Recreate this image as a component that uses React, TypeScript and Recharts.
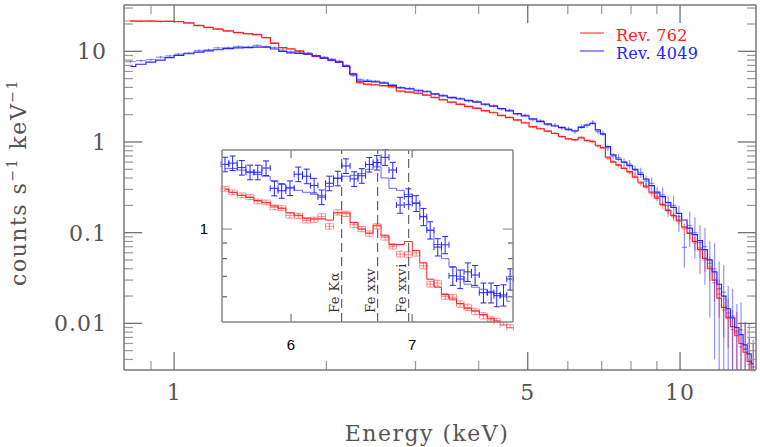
import { ComposedChart, Line, Scatter, ErrorBar, XAxis, YAxis, ReferenceLine, CartesianGrid, Legend } from 'recharts'

// main spectrum: energy bins (keV) and count rates
const mainEnergy = [
  0.82, 0.86, 0.9, 0.94, 0.98, 1.02, 1.07, 1.12, 1.17, 1.22,
  1.28, 1.34, 1.4, 1.46, 1.52, 1.58, 1.64, 1.7, 1.77, 1.84,
  1.91, 1.98, 2.05, 2.12, 2.19, 2.26, 2.33, 2.41, 2.5, 2.6,
  2.7, 2.8, 2.92, 3.04, 3.16, 3.28, 3.4, 3.54, 3.68, 3.82,
  3.97, 4.12, 4.28, 4.44, 4.6, 4.77, 4.94, 5.12, 5.3, 5.48,
  5.66, 5.84, 6.02, 6.2, 6.38, 6.55, 6.72, 6.88, 7.04, 7.2,
  7.38, 7.56, 7.75, 7.95, 8.15, 8.36, 8.57, 8.79, 9.01, 9.24,
  9.47, 9.71, 9.95, 10.2, 10.45, 10.7, 10.95, 11.2, 11.45, 11.7,
  11.95, 12.2, 12.45, 12.7, 12.95, 13.2, 13.45, 13.7, 13.95,
]

const redModel = [
  21.5, 21.5, 21.5, 21.4, 21.4, 21.3, 20.6, 19.2, 18.4, 17.6,
  16.8, 16.1, 15.7, 15.3, 14.2, 12.2, 11.0, 10.6, 10.1, 9.3,
  8.8, 8.4, 8.0, 7.6, 6.9, 5.6, 4.5, 4.35, 4.25, 4.18,
  4.05, 3.65, 3.55, 3.45, 3.28, 3.1, 2.92, 2.75, 2.6, 2.47,
  2.35, 2.22, 2.1, 1.97, 1.86, 1.75, 1.62, 1.48, 1.4, 1.32,
  1.24, 1.15, 1.08, 1.06, 1.11, 1.04, 1.01, 0.92, 0.86, 0.68,
  0.6, 0.56, 0.51, 0.47, 0.41, 0.36, 0.32, 0.28, 0.24, 0.205,
  0.175, 0.155, 0.135, 0.115, 0.098, 0.08, 0.065, 0.052, 0.04, 0.03,
  0.019, 0.015, 0.0115, 0.0092, 0.0073, 0.006, 0.0048, 0.0038, 0.0028,
]

const redData = [
  21.6, 21.4, 21.6, 21.3, 21.5, 21.2, 20.5, 19.4, 18.3, 17.7,
  16.7, 16.2, 15.6, 15.4, 14.0, 12.4, 10.9, 10.7, 10.0, 9.4,
  8.7, 8.5, 7.9, 7.7, 6.8, 5.7, 4.5, 4.3, 4.3, 4.15,
  4.1, 3.6, 3.57, 3.42, 3.3, 3.08, 2.95, 2.73, 2.62, 2.45,
  2.37, 2.2, 2.12, 1.95, 1.88, 1.73, 1.64, 1.46, 1.41, 1.31,
  1.25, 1.14, 1.09, 1.05, 1.13, 1.03, 1.02, 0.9, 0.87, 0.66,
  0.61, 0.55, 0.52, 0.46, 0.42, 0.35, 0.33, 0.27, 0.25, 0.2,
  0.18, 0.15, 0.14, 0.11, 0.1, 0.077, 0.068, 0.05, 0.042, 0.028,
  0.021, 0.014, 0.012, 0.0085, 0.0078, 0.0055, 0.0052, 0.0035, 0.003,
]

const redErrFrac = [
  0.02, 0.02, 0.02, 0.02, 0.02, 0.02, 0.02, 0.02, 0.02, 0.02,
  0.02, 0.02, 0.02, 0.02, 0.02, 0.02, 0.02, 0.02, 0.02, 0.02,
  0.02, 0.02, 0.02, 0.02, 0.02, 0.02, 0.02, 0.02, 0.02, 0.02,
  0.025, 0.025, 0.025, 0.025, 0.025, 0.025, 0.025, 0.025, 0.025, 0.025,
  0.025, 0.025, 0.025, 0.025, 0.025, 0.025, 0.025, 0.03, 0.03, 0.03,
  0.03, 0.03, 0.03, 0.03, 0.03, 0.035, 0.035, 0.035, 0.04, 0.04,
  0.04, 0.045, 0.05, 0.05, 0.06, 0.06, 0.07, 0.07, 0.08, 0.09,
  0.1, 0.11, 0.12, 0.14, 0.16, 0.18, 0.22, 0.26, 0.3, 0.38,
  0.45, 0.5, 0.55, 0.65, 0.7, 0.8, 0.9, 1, 1,
]

const blueModel = [
  6.8, 7.2, 7.6, 8.0, 8.5, 9.0, 9.4, 9.8, 10.1, 10.4,
  10.7, 10.9, 11.0, 11.1, 11.1, 10.6, 10.0, 9.6, 9.5, 9.3,
  8.9, 8.4, 8.0, 7.6, 6.8, 5.6, 4.7, 4.65, 4.6, 4.45,
  4.2, 3.95, 3.85, 3.72, 3.58, 3.4, 3.22, 3.1, 2.98, 2.87,
  2.75, 2.62, 2.48, 2.34, 2.2, 2.06, 1.94, 1.8, 1.68, 1.58,
  1.5, 1.45, 1.37, 1.33, 1.45, 1.54, 1.6, 1.36, 1.22, 0.89,
  0.72, 0.645, 0.6, 0.55, 0.5, 0.44, 0.39, 0.33, 0.28, 0.25,
  0.215, 0.19, 0.163, 0.138, 0.112, 0.095, 0.082, 0.065, 0.05, 0.037,
  0.027, 0.02, 0.0145, 0.0115, 0.009, 0.0075, 0.0058, 0.0046, 0.0036,
]

const blueData = [
  7.7, 7.9, 8.1, 8.6, 8.9, 9.3, 9.6, 10.2, 10.4, 10.9,
  11.0, 11.3, 11.2, 11.6, 11.3, 11.0, 10.3, 9.9, 9.8, 9.6,
  9.0, 8.6, 8.2, 7.8, 7.0, 5.4, 4.9, 4.8, 4.7, 4.55,
  4.25, 4.0, 3.9, 3.65, 3.62, 3.35, 3.28, 3.05, 3.02, 2.82,
  2.8, 2.58, 2.52, 2.3, 2.25, 2.02, 1.98, 1.76, 1.72, 1.55,
  1.53, 1.42, 1.4, 1.3, 1.48, 1.52, 1.65, 1.3, 1.24, 0.86,
  0.7, 0.67, 0.6, 0.57, 0.49, 0.46, 0.37, 0.35, 0.27, 0.26,
  0.2, 0.2, 0.15, 0.069, 0.12, 0.1, 0.078, 0.07, 0.046, 0.04,
  0.024, 0.022, 0.013, 0.012, 0.0082, 0.0085, 0.0052, 0.005, 0.0033,
]

const blueErrFrac = [
  0.03, 0.03, 0.03, 0.03, 0.03, 0.03, 0.03, 0.03, 0.03, 0.03,
  0.03, 0.03, 0.03, 0.03, 0.03, 0.03, 0.03, 0.03, 0.03, 0.03,
  0.03, 0.03, 0.03, 0.03, 0.03, 0.03, 0.03, 0.03, 0.03, 0.03,
  0.035, 0.035, 0.035, 0.035, 0.035, 0.035, 0.035, 0.035, 0.035, 0.035,
  0.04, 0.04, 0.04, 0.04, 0.04, 0.04, 0.04, 0.04, 0.04, 0.04,
  0.05, 0.05, 0.055, 0.055, 0.06, 0.06, 0.06, 0.065, 0.07, 0.075,
  0.08, 0.09, 0.1, 0.11, 0.12, 0.13, 0.15, 0.17, 0.19, 0.22,
  0.25, 0.28, 0.32, 0.4, 0.42, 0.48, 0.55, 0.62, 0.75, 0.9,
  1, 1, 1, 1, 1, 1, 1, 1, 1,
]

// iron-line inset
const insetEnergy = [
  5.516, 5.57, 5.635, 5.695, 5.751, 5.812, 5.874, 5.929, 5.992, 6.056,
  6.121, 6.179, 6.239, 6.3, 6.368, 6.435, 6.502, 6.566, 6.629, 6.693,
  6.764, 6.83, 6.894, 6.967, 7.036, 7.102, 7.163, 7.233, 7.301, 7.373,
  7.442, 7.515, 7.585, 7.666, 7.741, 7.797, 7.864, 7.931,
]

const insetBlueData = [
  1.63, 1.645, 1.59, 1.535, 1.535, 1.585, 1.36, 1.335, 1.363, 1.513,
  1.49, 1.39, 1.273, 1.413, 1.466, 1.61, 1.46, 1.495, 1.627, 1.652,
  1.718, 1.561, 1.199, 1.278, 1.214, 1.097, 0.992, 0.873, 0.888, 0.703,
  0.686, 0.724, 0.707, 0.619, 0.619, 0.605, 0.608, 0.686,
]

const insetBlueModel = [
  1.58, 1.58, 1.56, 1.54, 1.51, 1.49, 1.44, 1.4, 1.37, 1.34,
  1.32, 1.3, 1.29, 1.38, 1.47, 1.49, 1.5, 1.52, 1.57, 1.6,
  1.47, 1.36, 1.34, 1.3, 1.22, 1.1, 0.99, 0.89, 0.8, 0.75,
  0.7, 0.66, 0.645, 0.635, 0.625, 0.615, 0.6, 0.58,
]

const insetBlueErrFrac = [
  0.055, 0.055, 0.055, 0.055, 0.055, 0.055, 0.055, 0.055, 0.055, 0.055,
  0.055, 0.055, 0.055, 0.055, 0.055, 0.055, 0.055, 0.055, 0.055, 0.055,
  0.06, 0.06, 0.06, 0.06, 0.06, 0.065, 0.065, 0.065, 0.065, 0.07,
  0.07, 0.07, 0.075, 0.075, 0.075, 0.08, 0.08, 0.08,
]

const insetRedData = [
  1.355, 1.319, 1.29, 1.273, 1.232, 1.223, 1.178, 1.172, 1.109, 1.105,
  1.068, 1.073, 1.1, 1.021, 1.134, 1.122, 1.033, 1.0, 0.967, 1.021,
  0.939, 0.878, 0.828, 0.824, 0.834, 0.758, 0.66, 0.665, 0.602, 0.598,
  0.568, 0.554, 0.537, 0.52, 0.504, 0.498, 0.485, 0.475,
]

const insetRedModel = [
  1.35, 1.32, 1.29, 1.27, 1.24, 1.22, 1.19, 1.17, 1.13, 1.11,
  1.085, 1.08, 1.08, 1.07, 1.13, 1.13, 1.05, 1.0, 0.97, 1.03,
  0.95, 0.89, 0.89, 0.91, 0.85, 0.775, 0.685, 0.645, 0.61, 0.59,
  0.57, 0.55, 0.54, 0.525, 0.51, 0.5, 0.49, 0.48,
]

const insetRedErrFrac = [
  0.018, 0.018, 0.018, 0.018, 0.018, 0.018, 0.018, 0.018, 0.02, 0.02,
  0.02, 0.02, 0.02, 0.02, 0.02, 0.02, 0.02, 0.02, 0.02, 0.02,
  0.02, 0.02, 0.022, 0.022, 0.022, 0.022, 0.022, 0.022, 0.022, 0.022,
  0.024, 0.024, 0.024, 0.024, 0.024, 0.024, 0.024, 0.024,
]

const ironLineEnergy = [6.4, 6.7, 6.97]
const ironLineLabels = ['Fe K\u03b1', 'Fe xxv', 'Fe xxvi']

const seriesNames = ['Rev. 762', 'Rev. 4049']
const seriesColors = ['#ff2020', '#2424ff']
const dataColors = ['rgba(255,50,50,0.55)', 'rgba(40,40,255,0.5)']

const mainXMajor = [1, 5, 10]
const mainXMinor = [0.9, 2, 3, 4, 6, 7, 8, 9]
const mainYMajor = [0.01, 0.1, 1, 10]
const mainYMinor = [
  0.004, 0.005, 0.006, 0.007, 0.008, 0.009,
  0.02, 0.03, 0.04, 0.05, 0.06, 0.07, 0.08, 0.09,
  0.2, 0.3, 0.4, 0.5, 0.6, 0.7, 0.8, 0.9,
  2, 3, 4, 5, 6, 7, 8, 9, 20, 30,
]
const insetXTicks = [6, 7]
const insetYMajor = [1]
const insetYMinor = [0.6, 0.7, 0.8, 0.9]

const MAIN_X: [number, number] = [0.796, 14.13]
const MAIN_Y: [number, number] = [0.00306, 32.4]
const INSET_X: [number, number] = [5.495, 7.96]
const INSET_Y: [number, number] = [0.496, 1.816]

const SERIF = "'DejaVu Serif', serif"
const SANS = "'Liberation Sans', Arial, sans-serif"
const TEXT = '#555'

function binHalfWidths(es: number[]) {
  return es.map((e, i) => {
    const lo = i === 0 ? e - (es[1] - es[0]) / 2 : (es[i - 1] + e) / 2
    const hi = i === es.length - 1 ? e + (e - es[i - 1]) / 2 : (e + es[i + 1]) / 2
    return [e - lo, hi - e]
  })
}

// error bars stop at the bottom of the frame (log axis cannot go to zero)
function yErr(v: number, f: number, floor: number) {
  return [Math.min(v * f, Math.max(v - floor, 0)), v * f]
}

function buildRows(es: number[], model: number[], data: number[], frac: number[], floor: number) {
  const xe = binHalfWidths(es)
  return es.map((e, i) => ({ e, m: model[i], d: data[i], ex: xe[i], ey: yErr(data[i], frac[i], floor) }))
}

const mainRed = buildRows(mainEnergy, redModel, redData, redErrFrac, MAIN_Y[0])
const mainBlue = buildRows(mainEnergy, blueModel, blueData, blueErrFrac, MAIN_Y[0])
const insetRed = buildRows(insetEnergy, insetRedModel, insetRedData, insetRedErrFrac, INSET_Y[0])
const insetBlue = buildRows(insetEnergy, insetBlueModel, insetBlueData, insetBlueErrFrac, INSET_Y[0])

const noMarker = () => <g />

// tick labels only (majors); the tick marks themselves are drawn by tickMarks()
function makeLabel(side: 'bottom' | 'left', majors: number[], dx: number, dy: number, font: any) {
  return (props: any) => {
    const { x, y, payload } = props
    if (!majors.includes(payload.value)) return <g />
    return (
      <text x={x + dx} y={y + dy} textAnchor={side === 'left' ? 'end' : 'middle'} {...font}>
        {payload.value}
      </text>
    )
  }
}

// a reference line at the tick value, drawn only as short inward stubs at both frame edges
function stubShape(vertical: boolean, len: number, stroke: string) {
  return (p: any) => {
    const { x1, y1, x2, y2 } = p
    if (vertical) {
      const top = Math.min(y1, y2)
      const bot = Math.max(y1, y2)
      return (
        <g>
          <line x1={x1} x2={x1} y1={bot} y2={bot - len} stroke={stroke} strokeWidth={1.2} />
          <line x1={x1} x2={x1} y1={top} y2={top + len} stroke={stroke} strokeWidth={1.2} />
        </g>
      )
    }
    const l = Math.min(x1, x2)
    const r = Math.max(x1, x2)
    return (
      <g>
        <line x1={l} x2={l + len} y1={y1} y2={y1} stroke={stroke} strokeWidth={1.2} />
        <line x1={r} x2={r - len} y1={y1} y2={y1} stroke={stroke} strokeWidth={1.2} />
      </g>
    )
  }
}

function tickMarks(prefix: string, values: number[], vertical: boolean, len: number, stroke: string) {
  return values.map((v) =>
    vertical ? (
      <ReferenceLine key={`${prefix}${v}`} x={v} shape={stubShape(true, len, stroke)} />
    ) : (
      <ReferenceLine key={`${prefix}${v}`} y={v} shape={stubShape(false, len, stroke)} />
    ),
  )
}

function renderLegend() {
  return (
    <svg width={140} height={44}>
      {seriesNames.map((name, i) => (
        <g key={name}>
          <line x1={4} x2={28} y1={11 + i * 18} y2={11 + i * 18} stroke={seriesColors[i]} strokeWidth={1} />
          <text x={40} y={19 + i * 17.5} fill={seriesColors[i]} fontFamily={SERIF} fontSize={16} letterSpacing={0.3}>
            {name}
          </text>
        </g>
      ))}
    </svg>
  )
}

function YTitle(props: any) {
  const vb = props.viewBox
  const x = vb.x - 97
  const y = vb.y + vb.height / 2 - 5
  return (
    <text x={x} y={y} transform={`rotate(-90 ${x} ${y})`} textAnchor="middle" fontFamily={SERIF} fontSize={22} fill={TEXT} letterSpacing={1.5}>
      counts s<tspan dy={-9} fontSize={14}>{'\u22121'}</tspan>
      <tspan dy={9}> keV</tspan>
      <tspan dy={-9} fontSize={14}>{'\u22121'}</tspan>
    </text>
  )
}

function XTitle() {
  return (
    <text x={427} y={441} textAnchor="middle" fontFamily={SERIF} fontSize={22} fill={TEXT} letterSpacing={1.5}>
      Energy (keV)
    </text>
  )
}

function ironLabel(text: string) {
  return (props: any) => {
    const vb = props.viewBox
    const x = vb.x - 3
    const y = vb.y + vb.height - 9
    return (
      <text x={x} y={y} transform={`rotate(-90 ${x} ${y})`} fontFamily={SERIF} fontSize={13} fill="#333" letterSpacing={0.5}>
        {text}
      </text>
    )
  }
}

function MainChart() {
  const font = { fontFamily: SERIF, fontSize: 22, fill: TEXT, letterSpacing: 1 }
  const frame = { stroke: '#777', strokeWidth: 1.5 }
  const xCommon = { type: 'number' as const, dataKey: 'e', scale: 'log' as const, domain: MAIN_X, allowDataOverflow: true, height: 1, ticks: mainXMajor, interval: 0 as const, tickSize: 0, tickMargin: 0, tickLine: false, axisLine: frame }
  const yCommon = { type: 'number' as const, scale: 'log' as const, domain: MAIN_Y, allowDataOverflow: true, width: 1, ticks: mainYMajor, interval: 0 as const, tickSize: 0, tickMargin: 0, tickLine: false, axisLine: frame }
  return (
    <ComposedChart id="spectrum-main" width={760} height={447} margin={{ top: 4, right: 3, bottom: 76, left: 123 }}>
      <XAxis {...xCommon} tick={makeLabel('bottom', mainXMajor, 0, 30, font)} label={{ content: XTitle }} />
      <XAxis {...xCommon} xAxisId="top" orientation="top" tick={false} />
      <YAxis {...yCommon} tick={makeLabel('left', mainYMajor, -17, 8, font)} label={{ content: YTitle }} />
      <YAxis {...yCommon} yAxisId="right" orientation="right" tick={false} />
      <Legend layout="vertical" align="center" verticalAlign="middle" wrapperStyle={{ left: 576, top: 22, width: 140, height: 44 }} content={renderLegend} />

      <Scatter name={seriesNames[0] + ' data'} data={mainRed} dataKey="d" shape={noMarker} isAnimationActive={false}>
        <ErrorBar dataKey="ey" direction="y" width={0} stroke={dataColors[0]} strokeWidth={1.2} />
        <ErrorBar dataKey="ex" direction="x" width={0} stroke={dataColors[0]} strokeWidth={1.2} />
      </Scatter>
      <Line name={seriesNames[0]} data={mainRed} dataKey="m" type="step" stroke={seriesColors[0]} strokeWidth={1.2} dot={false} activeDot={false} isAnimationActive={false} />
      <Scatter name={seriesNames[1] + ' data'} data={mainBlue} dataKey="d" shape={noMarker} isAnimationActive={false}>
        <ErrorBar dataKey="ey" direction="y" width={0} stroke={dataColors[1]} strokeWidth={1.2} />
        <ErrorBar dataKey="ex" direction="x" width={0} stroke={dataColors[1]} strokeWidth={1.2} />
      </Scatter>
      <Line name={seriesNames[1]} data={mainBlue} dataKey="m" type="step" stroke={seriesColors[1]} strokeWidth={1.2} dot={false} activeDot={false} isAnimationActive={false} />

      {tickMarks('xM', mainXMajor, true, 18, '#666')}
      {tickMarks('xm', mainXMinor, true, 9, '#999')}
      {tickMarks('yM', mainYMajor, false, 18, '#666')}
      {tickMarks('ym', mainYMinor, false, 9, '#999')}
    </ComposedChart>
  )
}

function InsetChart() {
  const font = { fontFamily: SANS, fontSize: 15, fill: '#000' }
  const frame = { stroke: '#888', strokeWidth: 1.5 }
  const xCommon = { type: 'number' as const, dataKey: 'e', scale: 'log' as const, domain: INSET_X, allowDataOverflow: true, height: 1, ticks: insetXTicks, interval: 0 as const, tickSize: 0, tickMargin: 0, tickLine: false, axisLine: frame }
  const yCommon = { type: 'number' as const, scale: 'log' as const, domain: INSET_Y, allowDataOverflow: true, width: 1, ticks: insetYMajor, interval: 0 as const, tickSize: 0, tickMargin: 0, tickLine: false, axisLine: frame }
  return (
    <div style={{ position: 'absolute', left: 190, top: 140 }}>
      <ComposedChart id="spectrum-inset" width={340} height={220} margin={{ top: 9, right: 16, bottom: 37, left: 31 }}>
        <CartesianGrid fill="#fff" horizontal={false} vertical={false} stroke="none" />
        <XAxis {...xCommon} tick={makeLabel('bottom', insetXTicks, 0, 28, font)} />
        <XAxis {...xCommon} xAxisId="top" orientation="top" tick={false} />
        <YAxis {...yCommon} tick={makeLabel('left', insetYMajor, -14, 5, font)} />
        <YAxis {...yCommon} yAxisId="right" orientation="right" tick={false} />
        {ironLineEnergy.map((e, i) => (
          <ReferenceLine key={e} x={e} stroke="#444" strokeWidth={1} strokeDasharray="9 5" label={{ content: ironLabel(ironLineLabels[i]) }} />
        ))}

        <Scatter data={insetRed} dataKey="d" shape={noMarker} isAnimationActive={false}>
          <ErrorBar dataKey="ey" direction="y" width={3} stroke={dataColors[0]} strokeWidth={1} />
          <ErrorBar dataKey="ex" direction="x" width={3} stroke={dataColors[0]} strokeWidth={1} />
        </Scatter>
        <Line data={insetRed} dataKey="m" type="step" stroke={seriesColors[0]} strokeWidth={1} dot={false} activeDot={false} isAnimationActive={false} />
        <Scatter data={insetBlue} dataKey="d" shape={noMarker} isAnimationActive={false}>
          <ErrorBar dataKey="ey" direction="y" width={3} stroke={seriesColors[1]} strokeWidth={1} />
          <ErrorBar dataKey="ex" direction="x" width={3} stroke={seriesColors[1]} strokeWidth={1} />
        </Scatter>
        <Line data={insetBlue} dataKey="m" type="step" stroke="rgba(50,50,255,0.75)" strokeWidth={1} dot={false} activeDot={false} isAnimationActive={false} />

        {tickMarks('ix', insetXTicks, true, 8, '#777')}
        {tickMarks('iyM', insetYMajor, false, 10, '#999')}
        {tickMarks('iym', insetYMinor, false, 5, '#666')}
      </ComposedChart>
    </div>
  )
}

export default function App() {
  return (
    <div style={{ position: 'absolute', left: 0, top: 0, width: 760, height: 447, background: '#fff' }}>
      <MainChart />
      <InsetChart />
    </div>
  )
}
